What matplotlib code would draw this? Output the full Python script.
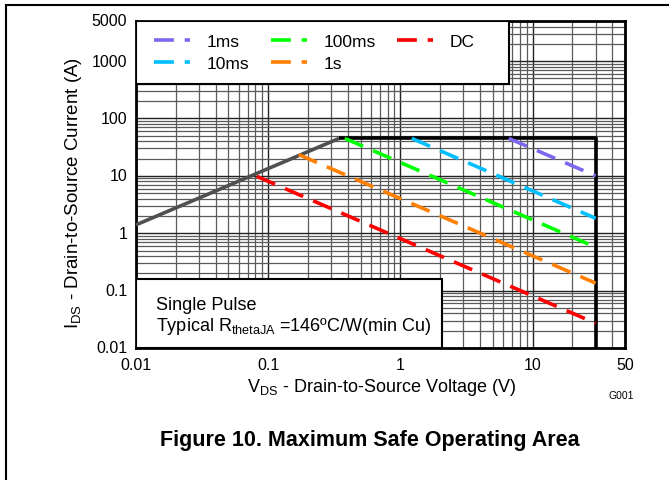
import matplotlib
matplotlib.use('Agg')
import matplotlib.pyplot as plt
from matplotlib.patches import Rectangle
from matplotlib.lines import Line2D
from matplotlib.ticker import LogLocator, FixedLocator

plt.rcParams['font.family'] = ['Liberation Sans', 'DejaVu Sans']
plt.rcParams['mathtext.default'] = 'regular'

# R_DS(on) limit
lim_v = [0.01, 0.344]
lim_i = [1.4, 45]
# package / BVdss boundary
bound_v = [0.344, 30, 30]
bound_i = [45, 45, 0.01]

# pulse curves: (label, colour, [v start, v end], [i start, i end])
pulses = [
    ('1ms',   '#7b68ee', [6.6, 30],   [45, 10]),
    ('10ms',  '#00bfff', [1.22, 30],  [45, 1.82]),
    ('100ms', '#00ff00', [0.38, 30],  [45, 0.57]),
    ('1s',    '#ff7f00', [0.17, 30],  [23.5, 0.135]),
    ('DC',    '#ff0000', [0.082, 30], [9.8, 0.027]),
]

xticks = [0.01, 0.1, 1, 10, 50]
xlabels = ['0.01', '0.1', '1', '10', '50']
yticks = [0.01, 0.1, 1, 10, 100, 1000, 5000]
ylabels = ['0.01', '0.1', '1', '10', '100', '1000', '5000']

fig = plt.figure(figsize=(6.69, 4.81), dpi=100)
ax = fig.add_axes([136/669, 1 - 349/481, 489/669, 327/481])
ax.set_xscale('log')
ax.set_yscale('log')
ax.set_xlim(0.01, 50)
ax.set_ylim(0.01, 5000)

ax.xaxis.set_major_locator(FixedLocator([0.01, 0.1, 1, 10]))
ax.yaxis.set_major_locator(FixedLocator([0.01, 0.1, 1, 10, 100, 1000]))
ax.xaxis.set_minor_locator(LogLocator(base=10, subs=range(2, 10), numticks=20))
ax.yaxis.set_minor_locator(LogLocator(base=10, subs=range(2, 10), numticks=20))
ax.grid(which='major', color='#222222', lw=1.0, zorder=0)
ax.grid(which='minor', color='#5a5a5a', lw=0.9, zorder=0)
ax.set_axisbelow(True)

# tick labels as separate text so 50 / 5000 can be shown at the edges
ax.tick_params(which='both', length=0, labelbottom=False, labelleft=False)
for v, s in zip(xticks, xlabels):
    ax.text(v, -0.028, s, transform=ax.get_xaxis_transform(), ha='center', va='top', fontsize=11.5)
for v, s in zip(yticks, ylabels):
    ax.text(-0.018, v, s, transform=ax.get_yaxis_transform(), ha='right', va='center', fontsize=11.5)

ax.plot(lim_v, lim_i, color='#505050', lw=2.6, solid_capstyle='butt', zorder=3)
ax.plot(bound_v, bound_i, color='black', lw=2.6, solid_capstyle='butt', zorder=3)
for lab, col, v, i in pulses:
    ax.plot(v, i, color=col, lw=2.6, linestyle=(0, (5.5, 3)), label=lab, zorder=3)

for s in ax.spines.values():
    s.set_linewidth(2)

# white boxes for legend and note
ax.add_patch(Rectangle((0, 0.807), 0.763, 0.193, transform=ax.transAxes,
                       facecolor='white', edgecolor='black', lw=1.5, zorder=4))
ax.add_patch(Rectangle((0, 0), 0.626, 0.211, transform=ax.transAxes,
                       facecolor='white', edgecolor='black', lw=1.5, zorder=4))

leg = ax.legend(loc='upper left', bbox_to_anchor=(0.012, 0.997), ncol=3, frameon=False,
                fontsize=12.5, handlelength=2.07, handletextpad=0.95, columnspacing=1.25,
                labelspacing=0.39, borderaxespad=0.3)
leg.set_zorder(5)

ax.text(0.04, 0.133, 'Single Pulse', transform=ax.transAxes, fontsize=13, va='center', zorder=6)
ax.text(0.04, 0.068, 'Typical R$_{thetaJA}$ =146ºC/W(min Cu)', transform=ax.transAxes,
        fontsize=13, va='center', zorder=6)

fig.text(382/669, 1 - 388/481, 'V$_{DS}$ - Drain-to-Source Voltage (V)', ha='center', va='center', fontsize=13)
fig.text(74/669, 1 - 193/481, 'I$_{DS}$ - Drain-to-Source Current (A)', ha='center', va='center',
         rotation=90, fontsize=13.5)
fig.text(621/669, 1 - 396/481, 'G001', ha='center', va='center', fontsize=7.5)
fig.text(370/669, 1 - 441/481, 'Figure 10. Maximum Safe Operating Area', ha='center', va='center',
         fontsize=15.5, fontweight='bold')

# page frame lines
fig.add_artist(Line2D([6/669, 1], [1 - 6/481, 1 - 6/481], color='black', lw=1.5))
fig.add_artist(Line2D([6/669, 6/669], [1 - 6/481, 0], color='black', lw=1.5))

fig.savefig('out.png', dpi=100)
